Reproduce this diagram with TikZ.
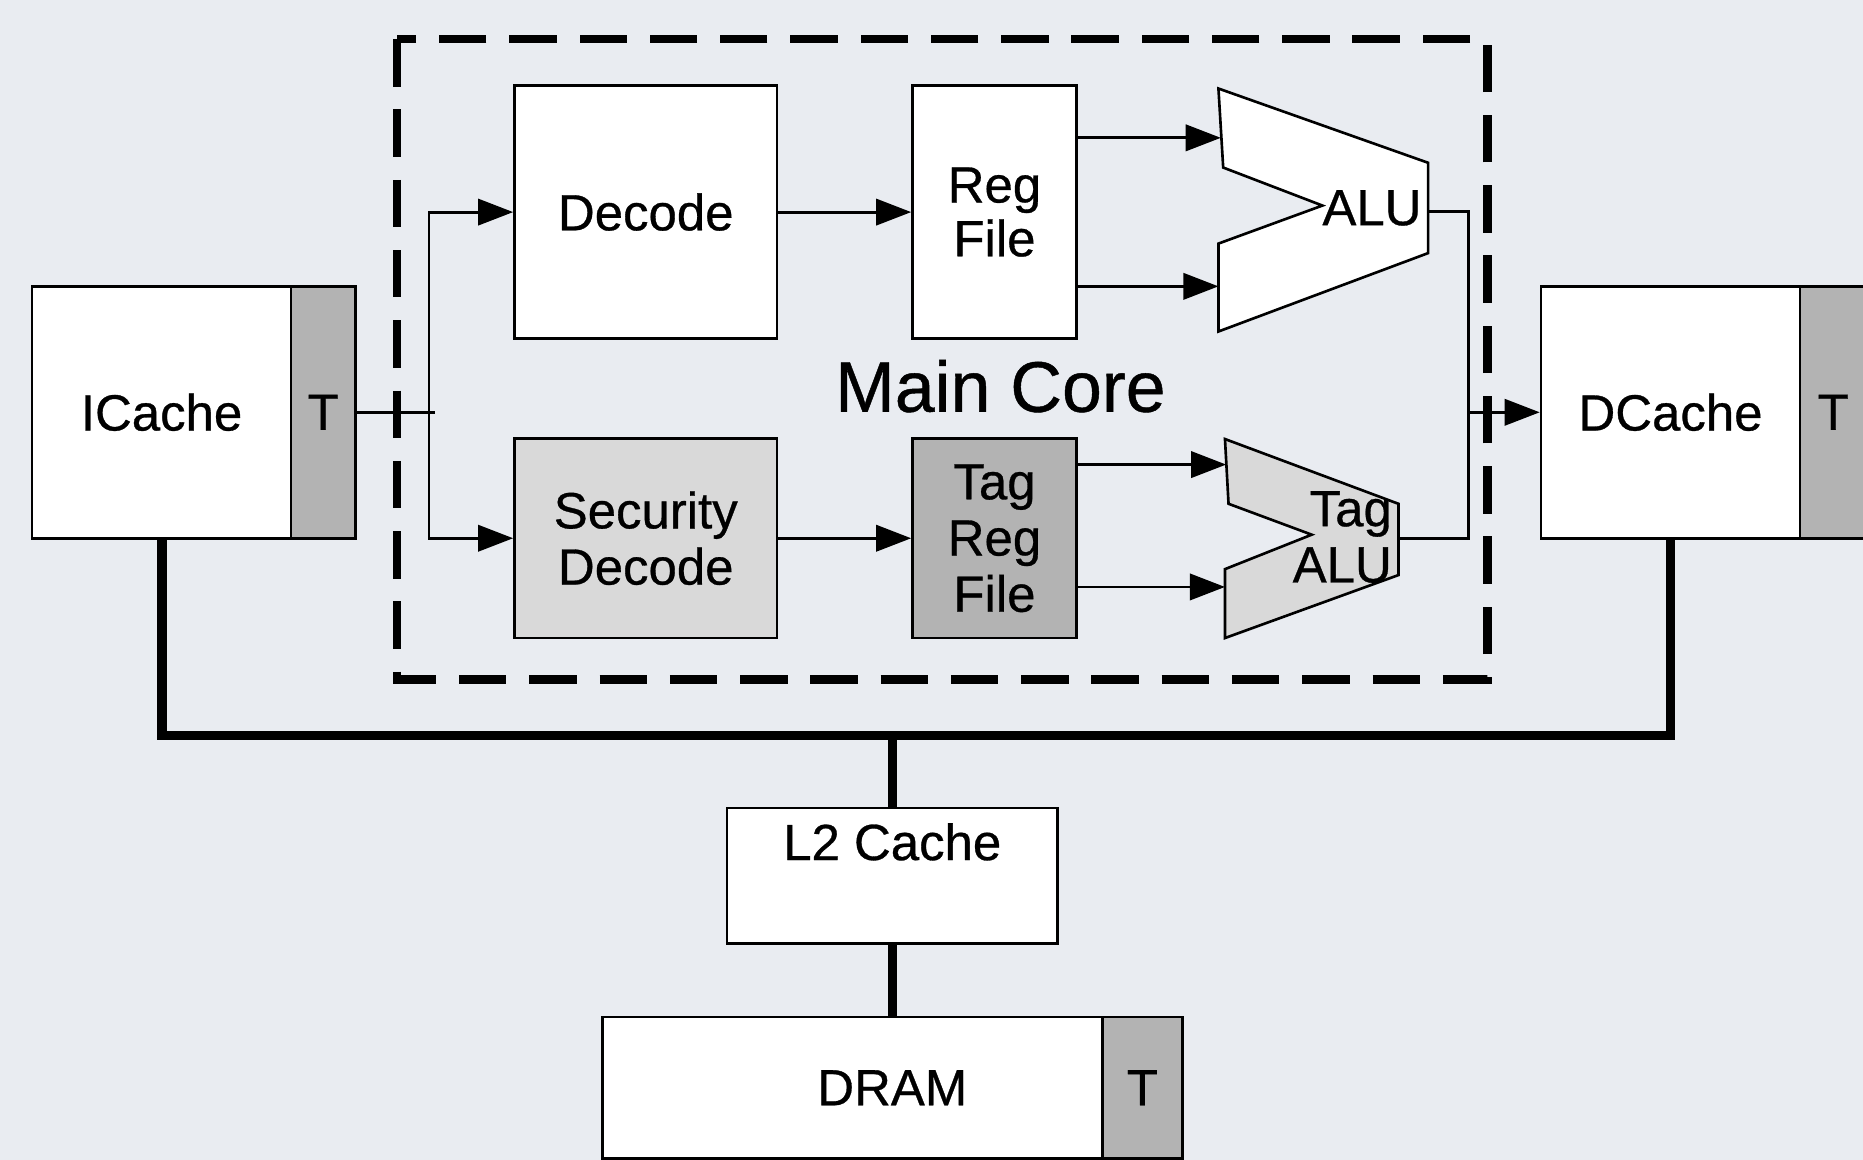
\documentclass[tikz,border=0pt]{standalone}
\usepackage{fontspec}
\setmainfont{Liberation Sans}[FakeBold=0.6]
\usetikzlibrary{arrows.meta}
\definecolor{bg}{RGB}{233,236,241}
\definecolor{tgray}{RGB}{179,179,179}
\definecolor{lgray}{RGB}{217,217,217}
\newcommand\rbox[7]{\node[box,#6,minimum width={(#4-#2)*0.01188cm},minimum height={(#5-#3)*0.01188cm}] (#1) at ({(#2+#4)/2},{(#3+#5)/2}) {#7};}
\begin{document}
\begin{tikzpicture}[x=0.01188cm, y=-0.01188cm,
  lbl/.style={font=\fontsize{14.5}{16}\selectfont},
  box/.style={draw, line width=0.75pt, fill=white, inner sep=0pt, lbl, align=center},
  thinline/.style={line width=0.8pt},
  arr/.style={thinline, -{Triangle[length=10pt,width=7.5pt]}},
  bus/.style={line width=2.8pt},
  vbus/.style={line width=2.6pt},
  coreframe/.style={line width=2.4pt, dash pattern=on 13.5pt off 6.5pt},
]
\useasboundingbox (0,0) rectangle (1568,976);
\fill[bg] (0,0) rectangle (1568,976);

% main core frame
\draw[coreframe] (334,33) rectangle (1252,572);

% boxes
\rbox{decode}{433}{72}{654}{285}{fill=white}{Decode}
\rbox{regfile}{768}{72}{906}{285}{font=\fontsize{14.5}{15.3}\selectfont}{Reg\\File}
\rbox{secdec}{433}{369}{654}{537}{fill=lgray}{Security\\Decode}
\rbox{tagreg}{768}{369}{906}{537}{fill=tgray}{Tag\\Reg\\File}
\rbox{icache}{27}{241}{245}{453}{fill=white}{ICache}
\rbox{icacheT}{245}{241}{299}{453}{fill=tgray}{T}
\rbox{dcache}{1297}{241}{1515}{453}{fill=white}{DCache}
\rbox{dcacheT}{1515}{241}{1571}{453}{fill=tgray}{T}
\rbox{l2}{612}{680}{890}{794}{label={[anchor=north,inner sep=0pt,yshift=-4.5pt,lbl]north:L2 Cache}}{}
\rbox{dram}{507}{856}{995}{975}{fill=white}{DRAM}
\rbox{dramT}{928}{856}{995}{975}{fill=tgray}{T}

% ALU shapes
\filldraw[fill=white, line width=0.75pt, line join=miter]
  (1025.5,74.5) -- (1202,137) -- (1202,213) -- (1025.5,279) -- (1025.5,205)
  -- (1113,173) -- (1029.5,141) -- cycle;
\node[lbl, anchor=east, inner sep=0pt] (alulabel) at (1197,175) {ALU};
\filldraw[fill=lgray, line width=0.75pt, line join=miter]
  (1031,369.5) -- (1177,424) -- (1177,484) -- (1031,537) -- (1031,479)
  -- (1104,450) -- (1034,424) -- cycle;
\node[lbl, align=right, anchor=east, inner sep=0pt] (talulabel) at (1172,452) {Tag\\ALU};

\node[font=\fontsize{20.4}{24}\selectfont, inner sep=0pt] (maincore) at (842,325) {Main Core};

% named points
\coordinate (sp) at (361,347);
\coordinate (spE) at (366,347);
\coordinate (aluin1) at (1027.5,116);
\coordinate (aluin2) at (1025.5,241);
\coordinate (taluin1) at (1032,391);
\coordinate (taluin2) at (1031,494);
\coordinate (aluout) at (1202,178);
\coordinate (taluout) at (1177,453);
\coordinate (join) at (1236,347);
\coordinate (busmid) at (751,619);

% connectors
\draw[thinline] (icacheT.east) -- (spE);
\draw[arr] (sp) |- (decode.west);
\draw[arr] (sp) |- (secdec.west);
\draw[arr] (decode.east) -- (regfile.west);
\draw[arr] (secdec.east) -- (tagreg.west);
\draw[arr] (regfile.east |- aluin1) -- (aluin1);
\draw[arr] (regfile.east |- aluin2) -- (aluin2);
\draw[arr] (tagreg.east |- taluin1) -- (taluin1);
\draw[arr] (tagreg.east |- taluin2) -- (taluin2);
\draw[thinline] (aluout) -| (join);
\draw[thinline] (taluout) -| (join);
\draw[arr] (join) -- (dcache.west);

% memory bus
\draw[bus] (icache.south) |- (busmid) -| (dcache.south);
\draw[vbus] (busmid) -- (l2.north);
\draw[vbus] (l2.south) -- (dram.north);
\end{tikzpicture}
\end{document}
